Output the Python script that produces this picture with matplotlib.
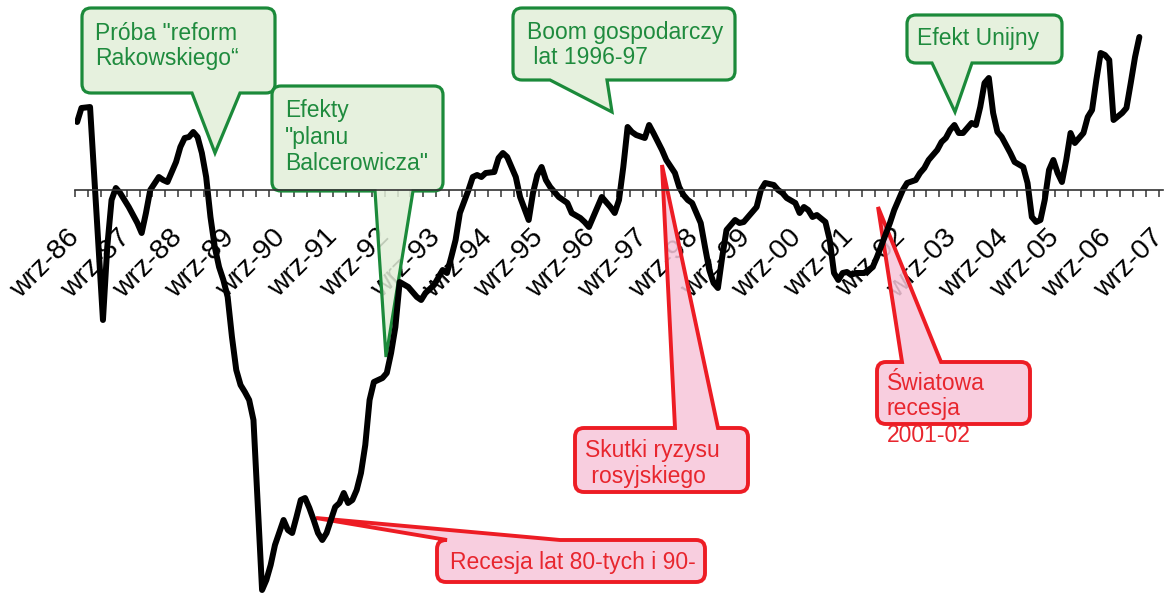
import matplotlib
matplotlib.use("Agg")
import matplotlib.pyplot as plt
from matplotlib.path import Path
from matplotlib.patches import PathPatch
from matplotlib.transforms import Affine2D, ScaledTranslation

# ---------------- data (month index from Sep 1986, value) ----------------
months = [0, 1, 3, 6, 7, 8, 9, 10, 12, 14, 15, 16, 17, 19, 20, 21, 22, 23, 24, 25,
          26, 27, 28, 29, 30, 31, 32, 33, 34, 35, 36, 37, 38, 39, 40, 41, 43, 44, 45, 46,
          48, 49, 50, 51, 52, 53, 54, 55, 56, 57, 58, 59, 60, 61, 62, 63, 64, 65, 66, 67,
          68, 69, 70, 71, 72, 73, 74, 75, 77, 79, 80, 81, 83, 85, 86, 87, 88, 89, 91, 92,
          93, 94, 95, 97, 98, 99, 100, 102, 103, 105, 106, 107, 108, 109, 110, 112, 113, 114, 115, 117,
          118, 119, 120, 121, 122, 124, 125, 126, 127, 128, 129, 130, 132, 133, 134, 136, 137, 139, 140, 141,
          142, 143, 145, 146, 147, 148, 149, 150, 151, 153, 154, 155, 156, 158, 159, 160, 162, 163, 164, 165,
          167, 168, 169, 170, 171, 172, 174, 175, 176, 177, 178, 179, 180, 181, 183, 184, 185, 186, 189, 190,
          192, 193, 195, 196, 197, 198, 200, 201, 202, 203, 204, 205, 206, 208, 209, 210, 211, 212, 213, 214,
          215, 216, 217, 218, 220, 221, 222, 223, 224, 225, 226, 227, 228, 229, 230, 231, 232, 233, 234, 235,
          236, 237, 238, 239, 240, 241, 243, 244, 245, 246, 247]
values = [6.8, 8.2, 8.3, -13.0, -5.7, -1.0, 0.2, -0.3, -1.7, -3.3, -4.3, -2.3, 0.0, 1.3, 1.0, 0.8, 1.8, 2.8, 4.3, 5.2,
          5.3, 5.8, 5.3, 3.7, 1.3, -2.7, -5.7, -7.7, -9.0, -10.7, -14.7, -18.0, -19.5, -20.2, -21.0, -23.0, -40.0, -39.0, -37.5, -35.5,
          -33.0, -34.0, -34.3, -32.7, -31.0, -30.8, -31.8, -33.0, -34.3, -35.0, -34.3, -33.0, -31.7, -31.3, -30.3, -31.3, -31.0, -30.0, -28.3, -25.5,
          -21.0, -19.2, -19.0, -18.8, -18.3, -16.3, -13.7, -9.2, -9.7, -10.7, -11.0, -10.3, -9.5, -8.0, -8.3, -6.7, -5.0, -2.3, 0.0, 1.3,
          1.5, 1.3, 1.7, 1.8, 3.2, 3.7, 3.3, 1.3, -0.7, -3.0, -0.3, 1.5, 2.3, 1.0, 0.3, -0.7, -1.0, -1.3, -2.3, -2.8,
          -3.2, -3.7, -2.7, -1.7, -0.7, -1.7, -2.3, -1.0, 2.3, 6.3, 5.8, 5.5, 5.2, 6.5, 5.7, 4.0, 3.0, 1.7, 0.3, -0.5,
          -1.0, -1.3, -3.3, -5.7, -8.0, -9.3, -9.8, -6.7, -4.0, -3.0, -3.3, -3.2, -2.7, -1.7, 0.0, 0.7, 0.5, 0.0, -0.3, -0.8,
          -1.3, -2.3, -1.7, -2.0, -2.7, -2.5, -3.2, -5.0, -8.3, -9.0, -8.3, -8.2, -8.5, -8.3, -8.3, -8.0, -7.7, -6.7, -3.3, -2.0,
          0.0, 0.7, 1.0, 1.7, 2.2, 3.0, 4.0, 4.8, 5.2, 6.0, 6.5, 5.7, 5.7, 6.7, 6.5, 8.3, 10.7, 11.2, 7.7, 5.8,
          5.3, 4.5, 3.7, 2.8, 2.3, 0.7, -2.7, -3.2, -3.0, -1.0, 2.0, 3.0, 1.7, 0.8, 3.0, 5.7, 4.7, 5.2, 5.7, 7.3,
          8.0, 11.0, 13.7, 13.5, 13.0, 7.0, 7.7, 8.2, 10.7, 13.3, 15.3]
label_months = [12 * i for i in range(22)]
tick_labels = ["wrz-%02d" % (y % 100) for y in range(1986, 2008)]

green_notes = [
    ["Próba \"reform", "Rakowskiego“"],
    ["Efekty", "\"planu", "Balcerowicza\""],
    ["Boom gospodarczy", " lat 1996-97"],
    ["Efekt Unijny"],
]
red_notes = [
    ["Skutki ryzysu", " rosyjskiego"],
    ["Światowa", "recesja", "2001-02"],
    ["Recesja lat 80-tych i 90-"],
]

# ---------------- figure ----------------
plt.rcParams["font.family"] = ["Liberation Sans", "DejaVu Sans"]
W, H, DPI = 1164, 594, 100
fig = plt.figure(figsize=(W / DPI, H / DPI), dpi=DPI)
fig.patch.set_facecolor("white")
ax = fig.add_axes([75 / W, 0, (1163 - 75) / W, 1])
ax.set_xlim(-0.5, 252.5)
ax.set_ylim(-40.4, 19.0)
ax.patch.set_visible(False)

for s in ["top", "left", "right"]:
    ax.spines[s].set_visible(False)
ax.spines["bottom"].set_position(("data", 0))
ax.spines["bottom"].set_color("#333333")
ax.spines["bottom"].set_linewidth(1.2)
ax.set_yticks([])
ax.set_xticks([m - 0.5 for m in range(0, 254, 3)])
ax.set_xticklabels([])
ax.tick_params(axis="x", direction="out", length=5, width=1.1, color="#333333")

off = ScaledTranslation(-11 / DPI, -34 / DPI, fig.dpi_scale_trans)
for m, lab in zip(label_months, tick_labels):
    ax.text(m, 0, lab, transform=ax.transData + off, rotation=45,
            rotation_mode="anchor", ha="right", va="top", fontsize=20.5,
            color="black", zorder=1.5)

ax.plot(months, values, color="black", lw=4.3, solid_joinstyle="round",
        solid_capstyle="round", zorder=2.2)

# ---------------- callouts (pixel layout) ----------------
pix = Affine2D().scale(1 / W, -1 / H).translate(0, 1) + fig.transFigure


def bubble(x0, y0, x1, y1, side, ba, bb, tip, fc, ec, lw, r=9):
    verts, codes = [], []

    def L(p, c=Path.LINETO):
        verts.append(p)
        codes.append(c)

    def C(c, p):
        verts.extend([c, p])
        codes.extend([Path.CURVE3, Path.CURVE3])

    L((x0 + r, y0), Path.MOVETO)
    if side == "top":
        L((ba, y0)); L(tip); L((bb, y0))
    L((x1 - r, y0)); C((x1, y0), (x1, y0 + r))
    L((x1, y1 - r)); C((x1, y1), (x1 - r, y1))
    if side == "bottom":
        L((bb, y1)); L(tip); L((ba, y1))
    L((x0 + r, y1)); C((x0, y1), (x0, y1 - r))
    L((x0, y0 + r)); C((x0, y0), (x0 + r, y0))
    L((0, 0), Path.CLOSEPOLY)
    p = PathPatch(Path(verts, codes), transform=pix, facecolor=fc,
                  edgecolor=ec, lw=lw, joinstyle="miter", zorder=1.8,
                  clip_on=False)
    ax.add_artist(p)


G_FC, G_EC, G_TX = (0.886, 0.937, 0.851, 0.85), "#1b8a3a", "#1f8b3e"
R_FC, R_EC, R_TX = (0.969, 0.776, 0.855, 0.85), "#ed1c24", "#e8262e"


def write(lines, x, y0, dy, color, size=16.5):
    for i, s in enumerate(lines):
        ax.text(x, y0 + i * dy, s, transform=pix, ha="left", va="center",
                fontsize=size, color=color, zorder=3, clip_on=False)


bubble(82, 8, 275, 93, "bottom", 192, 240, (215, 153), G_FC, G_EC, 2.3)
write(green_notes[0], 95, 33, 25, G_TX)
bubble(272, 86, 443, 191, "bottom", 375, 413, (386, 357), G_FC, G_EC, 2.3)
write(green_notes[1], 285, 111, 26.5, G_TX)
bubble(513, 8, 735, 80, "bottom", 550, 607, (612, 112), G_FC, G_EC, 2.3)
write(green_notes[2], 527, 33, 25, G_TX)
bubble(907, 15, 1062, 63, "bottom", 932, 972, (955, 112), G_FC, G_EC, 2.3)
write(green_notes[3], 917, 38, 25, G_TX)

bubble(575, 428, 748, 492, "top", 675, 718, (662, 165), R_FC, R_EC, 2.8)
write(red_notes[0], 585, 451, 26, R_TX)
bubble(877, 362, 1030, 424, "top", 902, 941, (878, 207), R_FC, R_EC, 2.8)
write(red_notes[1], 887, 383, 26, R_TX)
bubble(437, 540, 705, 582, "top", 447, 560, (316, 518), R_FC, R_EC, 2.8)
write(red_notes[2], 450, 562, 26, R_TX)

fig.savefig("out.png", dpi=DPI, facecolor="white")
